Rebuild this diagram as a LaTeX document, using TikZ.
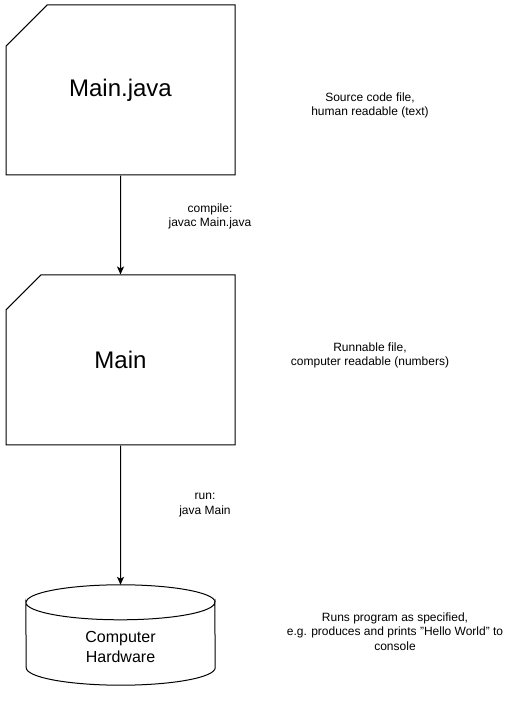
\documentclass[tikz,border=0pt]{standalone}
\usepackage{fontspec}
\setmainfont{Liberation Sans}
\usetikzlibrary{shapes.misc,arrows.meta}

\tikzset{
  card/.style={chamfered rectangle, chamfered rectangle corners=north west,
    chamfered rectangle xsep=30pt, chamfered rectangle ysep=30pt,
    draw, line width=1pt, minimum width=229pt, minimum height=170pt,
    inner sep=0pt, font=\fontsize{24}{29}\selectfont},
  note/.style={align=center, font=\fontsize{12}{14.5}\selectfont}
}

\begin{document}
\begin{tikzpicture}[x=1pt, y=1pt]
  \useasboundingbox (0,0) rectangle (521,701);
  \node (src) [card] at (120.5,611) {Main.java};
  \node (bin) [card] at (120.5,341) {Main};
  \node (hw) [minimum width=189pt, minimum height=100pt, inner sep=0pt] at (120.5,66) {};
  \node (hwtext) [align=center, font=\fontsize{16}{19.5}\selectfont] at (120.5,54) {Computer\\Hardware};
  % cylinder outline
  \draw[line width=1pt] ([yshift=-17.5pt]hw.north west)
    arc[start angle=180, end angle=360, x radius=94.5pt, y radius=17.5pt]
    -- ([yshift=17.5pt]hw.south east)
    arc[start angle=0, end angle=-180, x radius=94.5pt, y radius=17.5pt] -- cycle;
  \draw[line width=1pt] ([yshift=-17.5pt]hw.north east)
    arc[start angle=0, end angle=180, x radius=94.5pt, y radius=17.5pt];
  \path[-{Stealth[length=8pt,width=7pt,inset=2pt]}, line width=1pt]
  (src) edge (bin)
  (bin) edge (hw);
  \node (compile) [note] at (210,484.5) {compile:\\javac Main.java};
  \node (run) [note] at (205,196) {run:\\java Main};
  \node (srcnote) [note] at (370,595.5) {Source code file,\\human readable (text)};
  \node (binnote) [note] at (370,345.5) {Runnable file,\\computer readable (numbers)};
  \node (hwnote) [note] at (395,69.5) {Runs program as specified,\\e.g. produces and prints "Hello World" to\\console};
\end{tikzpicture}
\end{document}
